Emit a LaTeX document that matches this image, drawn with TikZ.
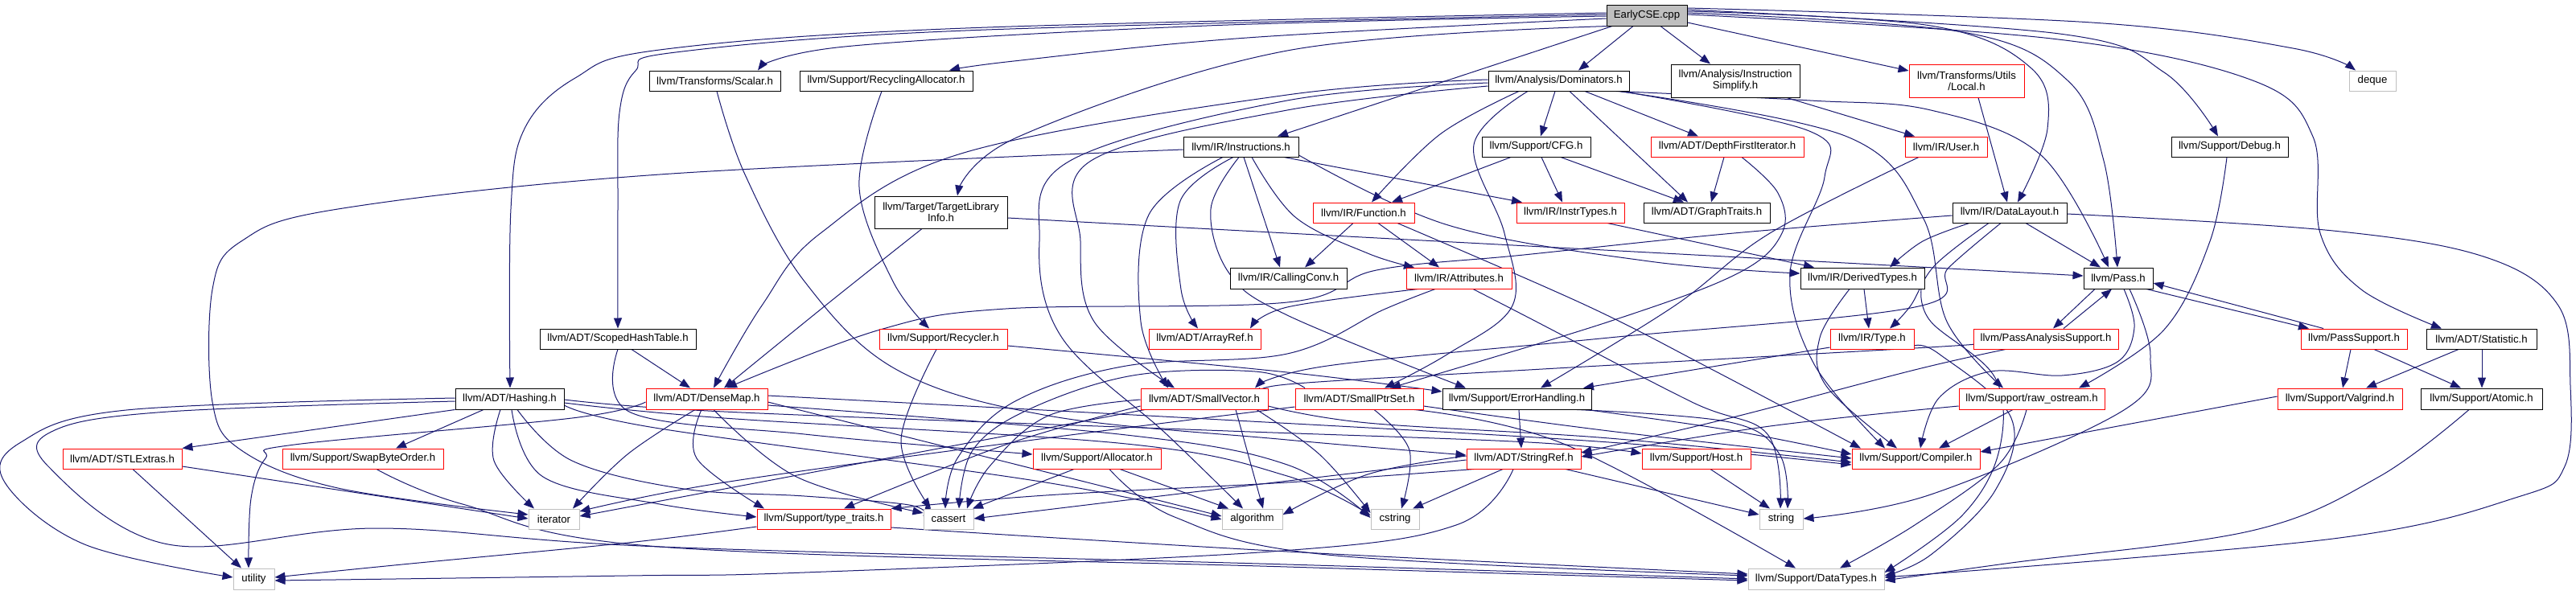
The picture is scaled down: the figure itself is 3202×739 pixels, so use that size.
\documentclass[tikz,border=0pt]{standalone}
\usepackage{fontspec}
\setmainfont{Liberation Sans}
\usetikzlibrary{arrows.meta,calc,backgrounds}
\definecolor{edgec}{RGB}{25,25,112}
\definecolor{leafc}{RGB}{191,191,191}
\definecolor{redc}{RGB}{255,0,0}
\newcommand{\fsz}{\fontsize{6.6}{7.0}\selectfont}
\newcommand{\gnode}[7]{\node[#1, minimum width={(#4-#3)*0.5pt}, minimum height={(#6-#5)*0.5pt}] (#2) at ({(#3+#4)/2},{(#5+#6)/2}) {#7};}
\newcommand{\cv}[1]{\draw[ee] plot[smooth,tension=.6] coordinates {#1};}
\tikzset{
  nd/.style={rectangle, inner sep=0pt, line width=0.5pt, align=center, font=\fsz, fill=white},
  bbox/.style={nd, draw=black},
  rbox/.style={nd, draw=redc},
  gbox/.style={nd, draw=leafc},
  topbox/.style={nd, draw=black, fill=leafc},
  ee/.style={draw=edgec, line width=0.5pt, -{Triangle[length=6.5pt,width=5pt]}}
}
\begin{document}
\begin{tikzpicture}[x=0.5pt,y=-0.5pt]
\useasboundingbox (0,0) rectangle (3202,739);
% ---------- nodes ----------
\gnode{topbox}{early}{1997}{2097}{6}{32}{EarlyCSE.cpp}
\gnode{bbox}{scalar}{807}{970}{88}{113}{llvm/Transforms/Scalar.h}
\gnode{bbox}{recyc}{994}{1209}{88}{113}{llvm/Support/RecyclingAllocator.h}
\gnode{bbox}{dom}{1850}{2025}{88}{113}{llvm/Analysis/Dominators.h}
\gnode{bbox}{instsimp}{2077}{2237}{80}{121}{llvm/Analysis/Instruction\\Simplify.h}
\gnode{rbox}{local}{2373}{2516}{80}{121}{llvm/Transforms/Utils\\/Local.h}
\gnode{gbox}{deque}{2920}{2978}{88}{113}{deque}
\gnode{bbox}{instr}{1471}{1614}{170}{195}{llvm/IR/Instructions.h}
\gnode{bbox}{cfg}{1842}{1977}{170}{195}{llvm/Support/CFG.h}
\gnode{rbox}{dfi}{2052}{2242}{170}{195}{llvm/ADT/DepthFirstIterator.h}
\gnode{rbox}{user}{2368}{2470}{170}{195}{llvm/IR/User.h}
\gnode{bbox}{debug}{2699}{2844}{170}{195}{llvm/Support/Debug.h}
\gnode{bbox}{tli}{1087}{1252}{244}{284}{llvm/Target/TargetLibrary\\Info.h}
\gnode{rbox}{func}{1632}{1758}{252}{277}{llvm/IR/Function.h}
\gnode{rbox}{instrtypes}{1885}{2019}{252}{277}{llvm/IR/InstrTypes.h}
\gnode{bbox}{graph}{2043}{2200}{252}{277}{llvm/ADT/GraphTraits.h}
\gnode{bbox}{dl}{2427}{2569}{252}{277}{llvm/IR/DataLayout.h}
\gnode{bbox}{cc}{1529}{1674}{333}{359}{llvm/IR/CallingConv.h}
\gnode{rbox}{attr}{1748}{1879}{333}{359}{llvm/IR/Attributes.h}
\gnode{bbox}{derived}{2238}{2392}{333}{359}{llvm/IR/DerivedTypes.h}
\gnode{bbox}{pass}{2590}{2676}{333}{359}{llvm/Pass.h}
\gnode{bbox}{scoped}{671}{865}{409}{434}{llvm/ADT/ScopedHashTable.h}
\gnode{rbox}{recycler}{1093}{1252}{409}{434}{llvm/Support/Recycler.h}
\gnode{rbox}{arrayref}{1428}{1567}{409}{434}{llvm/ADT/ArrayRef.h}
\gnode{rbox}{type}{2275}{2379}{409}{434}{llvm/IR/Type.h}
\gnode{rbox}{pas}{2453}{2633}{409}{434}{llvm/PassAnalysisSupport.h}
\gnode{rbox}{passsup}{2860}{2992}{409}{434}{llvm/PassSupport.h}
\gnode{bbox}{stat}{3016}{3153}{409}{434}{llvm/ADT/Statistic.h}
\gnode{bbox}{hashing}{566}{701}{483}{509}{llvm/ADT/Hashing.h}
\gnode{rbox}{densemap}{803}{954}{483}{509}{llvm/ADT/DenseMap.h}
\gnode{rbox}{smallvec}{1418}{1576}{483}{509}{llvm/ADT/SmallVector.h}
\gnode{rbox}{smallptr}{1610}{1769}{483}{509}{llvm/ADT/SmallPtrSet.h}
\gnode{bbox}{errh}{1793}{1978}{483}{509}{llvm/Support/ErrorHandling.h}
\gnode{rbox}{rawos}{2435}{2616}{483}{509}{llvm/Support/raw\_ostream.h}
\gnode{rbox}{valgrind}{2831}{2986}{483}{509}{llvm/Support/Valgrind.h}
\gnode{bbox}{atomic}{3009}{3160}{483}{509}{llvm/Support/Atomic.h}
\gnode{rbox}{stlextras}{78}{226}{558}{583}{llvm/ADT/STLExtras.h}
\gnode{rbox}{swap}{351}{551}{558}{583}{llvm/Support/SwapByteOrder.h}
\gnode{rbox}{allocator}{1284}{1443}{558}{583}{llvm/Support/Allocator.h}
\gnode{rbox}{stringref}{1823}{1965}{558}{583}{llvm/ADT/StringRef.h}
\gnode{rbox}{host}{2041}{2176}{558}{583}{llvm/Support/Host.h}
\gnode{rbox}{compiler}{2302}{2461}{558}{583}{llvm/Support/Compiler.h}
\gnode{gbox}{iterator}{657}{720}{633}{658}{iterator}
\gnode{rbox}{typetraits}{941}{1107}{633}{658}{llvm/Support/type\_traits.h}
\gnode{gbox}{cassert}{1148}{1210}{633}{658}{cassert}
\gnode{gbox}{algorithm}{1519}{1594}{633}{658}{algorithm}
\gnode{gbox}{cstring}{1704}{1764}{633}{658}{cstring}
\gnode{gbox}{string}{2187}{2241}{633}{658}{string}
\gnode{gbox}{utility}{290}{341}{707}{733}{utility}
\gnode{gbox}{datatypes}{2173}{2342}{707}{733}{llvm/Support/DataTypes.h}
% ---------- edges ----------
\begin{scope}[on background layer]
% EarlyCSE.cpp
\cv{(early.west |- 0,16) (1200,35) (820,62) (715,97) (652,160) (635,260) (hashing.north -| 634,0)}
\cv{(early.west |- 0,18) (1200,38) (840,65) (790,88) (770,140) (768,260) (scoped.north -| 768,0)}
\cv{(early.west |- 0,20) (1500,32) (1050,58) (scalar.north -| 942,0)}
\cv{(early.west |- 0,23) (1550,47) (1260,76) (recyc.north -| 1180,0)}
\cv{(early.south -| 2000,0) (1600,63) (1266,170) (tli.north -| 1190,0)}
\draw[ee] (early.south -| 2004,0) -- (instr.north -| 1588,0);
\draw[ee] (early.south -| 2030,0) -- (dom.north -| 1962,0);
\draw[ee] (early.south -| 2064,0) -- (instsimp.north -| 2126,0);
\draw[ee] (early.east |- 0,28) -- (local.west |- 0,88);
\cv{(early.east |- 0,14) (2400,32) (2525,85) (2545,160) (dl.north -| 2508,0)}
\cv{(early.east |- 0,16) (2440,40) (2570,100) (2615,200) (pass.north -| 2632,0)}
\cv{(early.east |- 0,12) (2560,42) (2690,90) (debug.north -| 2757,0)}
\cv{(early.east |- 0,10) (2600,28) (2850,60) (deque.north -| 2928,0)}
\cv{(early.east |- 0,18) (2550,48) (2800,100) (2875,170) (2884,290) (2935,360) (stat.north -| 3035,0)}
% Dominators.h
\cv{(dom.west |- 0,99) (1600,118) (1198,190) (1020,290) (947,380) (densemap.north -| 887,0)}
\cv{(dom.west |- 0,103) (1600,125) (1330,200) (1292,300) (1320,420) (1450,540) (algorithm.north -| 1545,0)}
\cv{(dom.west |- 0,107) (1600,137) (1356,200) (1343,300) (1360,400) (smallvec.north -| 1460,0)}
\cv{(dom.south -| 1888,0) (1790,167) (func.north -| 1705,0)}
\cv{(dom.south -| 1899,0) (1832,180) (1870,290) (1880,380) (1800,440) (smallptr.north -| 1721,0)}
\draw[ee] (dom.south -| 1933,0) -- (cfg.north -| 1915,0);
\draw[ee] (dom.south -| 1951,0) -- (graph.north -| 2098,0);
\draw[ee] (dom.south -| 1970,0) -- (dfi.north -| 2111,0);
\cv{(dom.south -| 2009,0) (2250,125) (2400,137) (2537,193) (pass.north -| 2621,0)}
\cv{(dom.south -| 2012,0) (2296,170) (2390,270) (2420,400) (rawos.north -| 2490,0)}
\cv{(dom.south -| 2015,0) (2249,163) (2268,220) (2225,340) (2255,453) (compiler.north -| 2343,0)}
% Instructions.h
\cv{(instr.west |- 0,186) (820,217) (420,260) (300,300) (264,360) (264,500) (300,560) (420,607) (iterator.west |- 0,640)}
\cv{(instr.south -| 1533,0) (1467,250) (1468,360) (arrayref.north -| 1489,0)}
\cv{(instr.south -| 1520,0) (1428,267) (1418,400) (smallvec.north -| 1452,0)}
\draw[ee] (instr.south -| 1546,0) -- (cc.north -| 1591,0);
\cv{(instr.south -| 1556,0) (1610,270) (1700,315) (attr.north -| 1758,0)}
\cv{(instr.east |- 0,193) (1800,280) (2050,325) (derived.west |- 0,340)}
\draw[ee] (instr.south -| 1596,0) -- (instrtypes.north -| 1892,0);
\cv{(instr.south -| 1540,0) (1505,260) (1528,340) (1600,392) (errh.north -| 1822,0)}
% TargetLibraryInfo.h
\cv{(tli.south -| 1146,0) (1026,380) (densemap.north -| 900,0)}
\cv{(tli.east |- 0,271) (1600,290) (2200,322) (pass.west |- 0,343)}
% Scalar.h, RecyclingAllocator.h, Recycler.h
\cv{(scalar.south -| 891,0) (926,217) (1000,350) (1115,460) (1303,517) (1600,547) (stringref.west |- 0,566)}
\cv{(recyc.south -| 1096,0) (1068,233) (1110,350) (recycler.north -| 1155,0)}
\cv{(recycler.south -| 1164,0) (1120,547) (cassert.north -| 1157,0)}
\cv{(recycler.east |- 0,430) (1600,463) (errh.west |- 0,487)}
% CFG.h, DepthFirstIterator.h, User.h, InstructionSimplify.h, Local.h, Debug.h
\draw[ee] (cfg.south -| 1878,0) -- (func.north -| 1730,0);
\draw[ee] (cfg.south -| 1916,0) -- (instrtypes.north -| 1942,0);
\draw[ee] (cfg.south -| 1940,0) -- (graph.north -| 2093,0);
\draw[ee] (dfi.south -| 2143,0) -- (graph.north -| 2127,0);
\cv{(dfi.south -| 2165,0) (2210,240) (2215,290) (2160,340) (2000,400) (smallptr.north -| 1728,0)}
\cv{(user.south -| 2385,0) (2200,290) (2082,380) (errh.north -| 1915,0)}
\draw[ee] (instsimp.south -| 2221,0) -- (user.north -| 2380,0);
\draw[ee] (local.south -| 2459,0) -- (dl.north -| 2495,0);
\cv{(debug.south -| 2768,0) (2747,300) (2690,410) (rawos.north -| 2584,0)}
% Function.h, InstrTypes.h, Attributes.h
\draw[ee] (func.south -| 1682,0) -- (cc.north -| 1622,0);
\draw[ee] (func.south -| 1713,0) -- (attr.north -| 1789,0);
\cv{(func.south -| 1737,0) (1972,380) (2129,460) (compiler.north -| 2313,0)}
\draw[ee] (instrtypes.south -| 1998,0) -- (derived.north -| 2255,0);
\cv{(attr.south -| 1763,0) (1600,382) (arrayref.north -| 1554,0)}
\cv{(attr.south -| 1784,0) (1720,385) (1600,440) (1400,455) (1260,500) (1190,570) (cassert.north -| 1175,0)}
\cv{(attr.south -| 1831,0) (1900,395) (2103,500) (2197,540) (string.north -| 2213,0)}
% DerivedTypes.h
\draw[ee] (derived.south -| 2317,0) -- (type.north -| 2323,0);
\cv{(derived.south -| 2299,0) (2262,420) (2270,480) (compiler.north -| 2358,0)}
\cv{(derived.south -| 2388,0) (2400,400) (2480,470) (2485,560) (2440,640) (datatypes.east |- 0,712)}
% DataLayout.h
\draw[ee] (dl.south -| 2518,0) -- (pass.north -| 2611,0);
\cv{(dl.south -| 2448,0) (2390,300) (derived.north -| 2349,0)}
\cv{(dl.south -| 2472,0) (2405,330) (2375,380) (type.north -| 2349,0)}
\cv{(dl.west |- 0,268) (2155,290) (1894,317) (1711,336) (1600,376) (1250,384) (1094,410) (densemap.north -| 903,0)}
\cv{(dl.south -| 2487,0) (2422,333) (2380,382) (2000,420) (1650,455) (smallvec.north -| 1560,0)}
\cv{(dl.east |- 0,266) (2900,287) (3090,320) (3180,380) (3195,480) (3188,580) (3130,618) (2900,670) (datatypes.east |- 0,718)}
% Pass.h and friends
\draw[ee] (pass.south -| 2604,0) -- (pas.north -| 2552,0);
\draw[ee] (pas.north -| 2565,0) -- (pass.south -| 2625,0);
\draw[ee] (pass.south -| 2668,0) -- (passsup.north -| 2870,0);
\draw[ee] (passsup.north -| 2888,0) -- (pass.east |- 0,352);
\cv{(pass.south -| 2640,0) (2653,407) (2632,450) (2563,467) (2474,462) (2410,495) (compiler.north -| 2387,0)}
\cv{(pass.south -| 2647,0) (2673,443) (2640,510) (2400,615) (string.east |- 0,645)}
\cv{(pas.west |- 0,428) (2380,433) (1900,460) (1600,478) (smallvec.east |- 0,490)}
\cv{(pas.south -| 2493,0) (2380,460) (2150,520) (stringref.east |- 0,563)}
\draw[ee] (passsup.south -| 2922,0) -- (valgrind.north -| 2912,0);
\draw[ee] (passsup.south -| 2951,0) -- (atomic.north -| 3059,0);
\draw[ee] (stat.south -| 3056,0) -- (valgrind.north -| 2941,0);
\draw[ee] (stat.south -| 3085,0) -- (atomic.north -| 3085,0);
\draw[ee] (valgrind.west |- 0,493) -- (compiler.east |- 0,562);
\cv{(atomic.south -| 3069,0) (2957,593) (2799,660) (2500,700) (datatypes.east |- 0,722)}
% raw_ostream.h
\draw[ee] (rawos.south -| 2502,0) -- (compiler.north -| 2410,0);
\cv{(rawos.south -| 2519,0) (2485,577) (2380,653) (datatypes.north -| 2287,0)}
\cv{(rawos.west |- 0,505) (2200,530) (stringref.east |- 0,568)}
% Type.h
\draw[ee] (type.west |- 0,432) -- (errh.north -| 1968,0);
\cv{(type.east |- 0,430) (2410,440) (2500,520) (2480,610) (2400,690) (datatypes.east |- 0,716)}
% ErrorHandling.h
\draw[ee] (errh.south -| 1888,0) -- (stringref.north -| 1891,0);
\cv{(errh.south -| 1972,0) (2150,535) (compiler.west |- 0,565)}
\cv{(errh.south -| 1960,0) (2150,525) (2212,565) (string.north -| 2222,0)}
% StringRef.h
\cv{(stringref.west |- 0,567) (1700,590) (algorithm.east |- 0,640)}
\cv{(stringref.west |- 0,572) (1500,610) (cassert.east |- 0,645)}
\cv{(stringref.south -| 1832,0) (1600,600) (1300,616) (typetraits.north east)}
\draw[ee] (stringref.south -| 1868,0) -- (cstring.north -| 1756,0);
\cv{(stringref.south -| 1881,0) (1810,653) (1580,686) (1000,712) (780,716) (utility.east |- 0,722)}
\draw[ee] (stringref.south -| 1946,0) -- (string.west |- 0,640);
% SmallPtrSet.h
\cv{(smallptr.east |- 0,505) (2000,536) (compiler.west |- 0,570)}
\cv{(smallptr.south -| 1758,0) (1946,553) (datatypes.north -| 2232,0)}
\cv{(smallptr.south -| 1708,0) (1752,560) (cstring.north -| 1742,0)}
\cv{(smallptr.north -| 1622,0) (1560,462) (1408,467) (1277,510) (1209,560) (cassert.north -| 1192,0)}
\cv{(smallptr.west |- 0,506) (1300,545) (900,600) (iterator.east |- 0,636)}
% SmallVector.h
\cv{(smallvec.east |- 0,505) (1700,526) (2000,545) (compiler.west |- 0,575)}
\draw[ee] (smallvec.south -| 1536,0) -- (algorithm.north -| 1570,0);
\cv{(smallvec.west |- 0,497) (1303,517) (1230,580) (cassert.north -| 1202,0)}
\cv{(smallvec.south -| 1562,0) (1640,565) (cstring.west |- 0,638)}
\draw[ee] (smallvec.south -| 1423,0) -- (iterator.east |- 0,642);
\cv{(smallvec.west |- 0,505) (1250,553) (typetraits.north -| 1049,0)}
% DenseMap.h
\cv{(densemap.east |- 0,492) (1500,521) (2000,550) (compiler.west |- 0,578)}
\draw[ee] (densemap.east |- 0,500) -- (algorithm.west |- 0,642);
\cv{(densemap.south -| 887,0) (990,593) (cassert.west |- 0,638)}
\cv{(densemap.south -| 872,0) (866,570) (typetraits.north -| 950,0)}
\cv{(densemap.south -| 864,0) (780,565) (iterator.north -| 712,0)}
\cv{(densemap.east |- 0,504) (1400,541) (1600,578) (cstring.west |- 0,644)}
\cv{(densemap.west |- 0,500) (711,520) (366,553) (330,570) (312,620) (utility.north -| 309,0)}
% Allocator.h
\cv{(allocator.south -| 1379,0) (1460,643) (1650,690) (datatypes.west |- 0,716)}
\draw[ee] (allocator.south -| 1392,0) -- (algorithm.north -| 1527,0);
\draw[ee] (allocator.south -| 1335,0) -- (cassert.north -| 1209,0);
% Hashing.h
\draw[ee] (hashing.south west) -- (stlextras.north east);
\draw[ee] (hashing.south -| 601,0) -- (swap.north -| 492,0);
\cv{(hashing.south -| 622,0) (614,573) (iterator.north -| 664,0)}
\cv{(hashing.west |- 0,495) (157,510) (26,550) (6,600) (105,677) (utility.west |- 0,718)}
\cv{(hashing.west |- 0,499) (209,512) (68,535) (60,580) (209,677) (471,657) (820,680) (1600,702) (datatypes.west |- 0,720)}
\cv{(hashing.south -| 636,0) (675,593) (820,627) (typetraits.west |- 0,643)}
\cv{(hashing.south -| 643,0) (711,573) (850,608) (1000,617) (1130,628) (cassert.west |- 0,642)}
\cv{(hashing.east |- 0,504) (820,533) (1300,600) (algorithm.west |- 0,646)}
\cv{(hashing.east |- 0,497) (900,512) (1500,535) (1900,550) (host.west |- 0,564)}
\cv{(hashing.east |- 0,501) (900,520) (1400,552) (1600,592) (cstring.west |- 0,641)}
% STLExtras.h, SwapByteOrder.h, type_traits.h
\draw[ee] (stlextras.east |- 0,580) -- (iterator.west |- 0,645);
\draw[ee] (stlextras.south -| 165,0) -- (utility.north -| 300,0);
\cv{(swap.south -| 468,0) (575,627) (820,680) (1600,705) (datatypes.west |- 0,722)}
\cv{(typetraits.west |- 0,655) (780,675) (500,702) (utility.east |- 0,718)}
\cv{(typetraits.east |- 0,656) (1600,686) (datatypes.west |- 0,714)}
% ScopedHashTable.h, Host.h
\draw[ee] (scoped.south -| 785,0) -- (densemap.north -| 858,0);
\cv{(scoped.south -| 768,0) (784,513) (1000,540) (1200,558) (allocator.west |- 0,565)}
\draw[ee] (host.south -| 2126,0) -- (string.north -| 2200,0);
\end{scope}
\end{tikzpicture}
\end{document}
